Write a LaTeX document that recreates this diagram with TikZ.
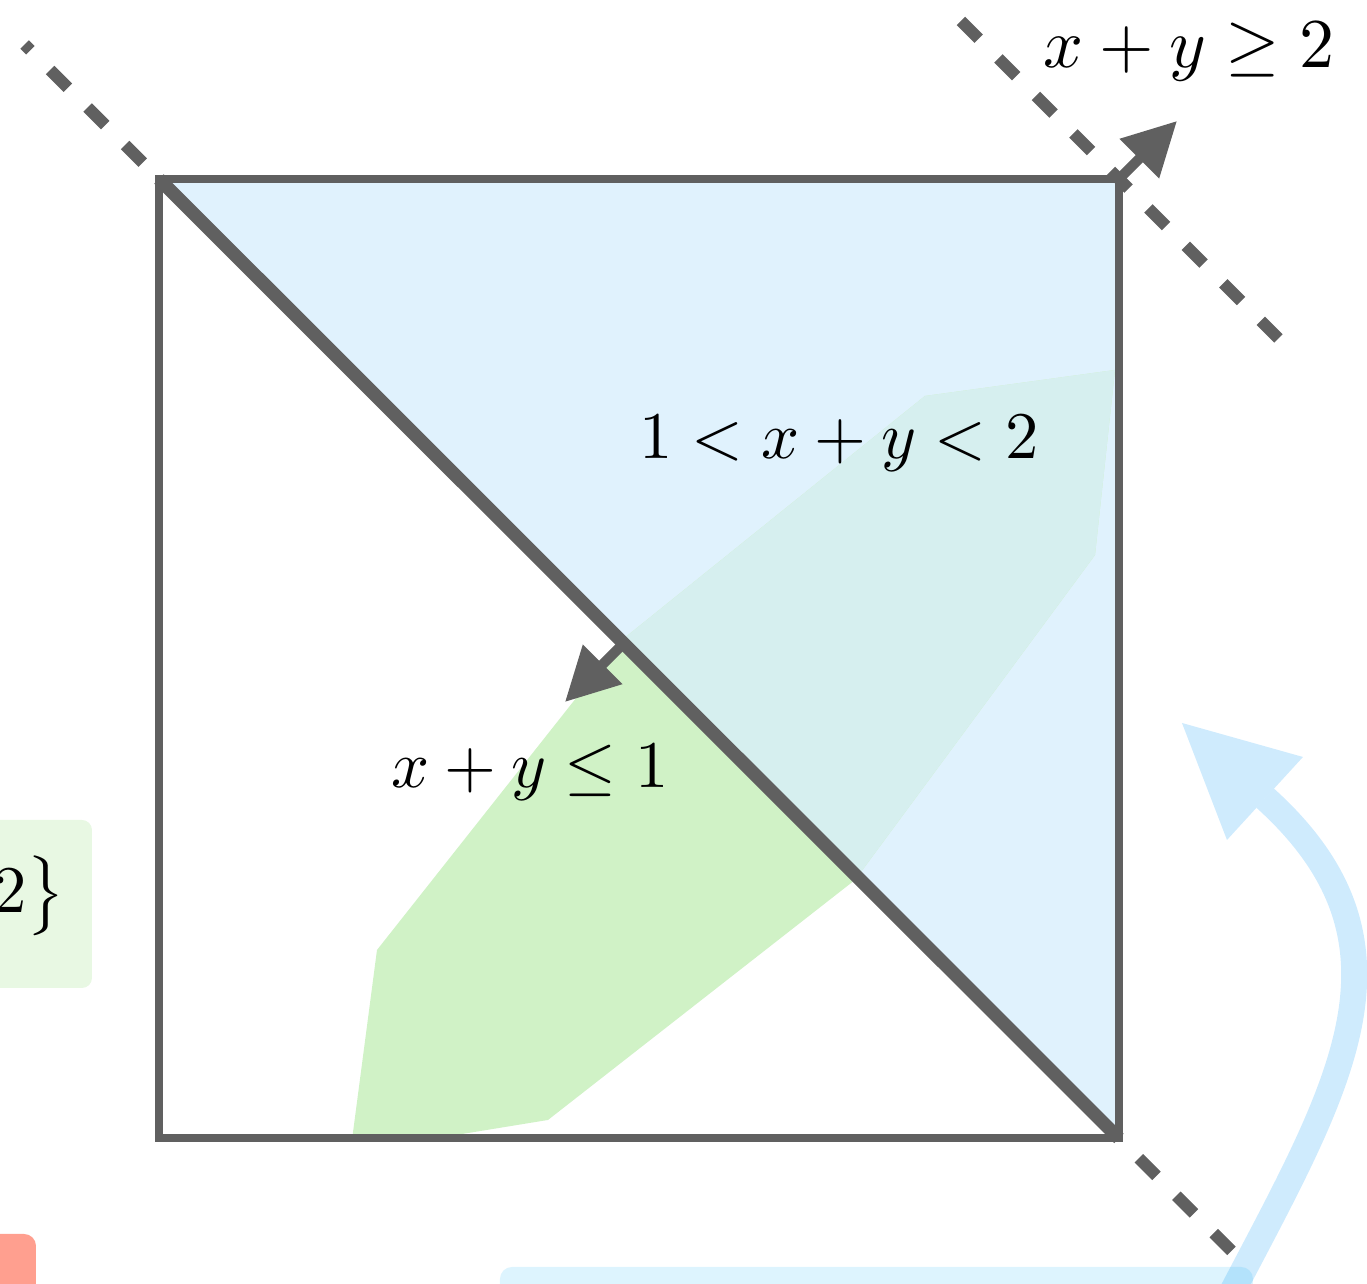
\documentclass[tikz,border=0pt]{standalone}
\usetikzlibrary{arrows.meta,calc}
\definecolor{lgray}{RGB}{96,96,96}
\definecolor{fillblue}{RGB}{224,242,253}
\definecolor{fillgreen}{RGB}{208,242,198}
\definecolor{fillteal}{RGB}{214,239,239}
\definecolor{boxgreen}{RGB}{232,248,227}
\definecolor{boxred}{RGB}{255,159,143}
\definecolor{arrowblue}{RGB}{207,235,253}
\definecolor{barbase}{RGB}{3,169,244}
\begin{document}
\begin{tikzpicture}[x=0.15pt,y=-0.15pt,
  solidline/.style={draw=lgray,line width=2pt},
  frameline/.style={draw=lgray,line width=1.2pt},
  dashline/.style={draw=lgray,line width=1.8pt,dash pattern=on 3.75pt off 4.2pt},
  arrowline/.style={draw=lgray,line width=1.5pt,-{Triangle[length=8pt,width=8pt]}},
  lbl/.style={anchor=base,inner sep=0pt}]
\useasboundingbox (0,0) rectangle (1367,1284);
% partial boxes at the edges
\fill[boxgreen,rounded corners=1.5pt] (-60,820) rectangle (92,988);
\node[anchor=base east,inner sep=0pt] (setlbl) at (67,913) {$2\bigr\}$};
\fill[boxred,rounded corners=1.8pt] (-60,1234) rectangle (36,1330);
% square corners
\coordinate (A) at (159,1138.5);
\coordinate (B) at (1119,1138.5);
\coordinate (C) at (1119,179);
\coordinate (D) at (159,179);
% regions
\fill[fillblue] (D) -- (C) -- (B) -- cycle;
\begin{scope}
  \clip (A) rectangle (C);
  \fill[fillgreen] (352,1140) -- (377,950) -- (622,640) -- (925,396) -- (1115,370) -- (1095,555) -- (855,880) -- (548,1120) -- (450,1136) -- cycle;
  \clip (D) -- (C) -- (B) -- cycle;
  \fill[fillteal] (352,1140) -- (377,950) -- (622,640) -- (925,396) -- (1115,370) -- (1095,555) -- (855,880) -- (548,1120) -- (450,1136) -- cycle;
\end{scope}
% dashed lines
\coordinate (tl) at (24.6,44.6);
\coordinate (br) at (1236,1255.5);
\coordinate (tr1) at (961,21);
\coordinate (tr2) at (1278.5,338.5);
\draw[dashline,dash phase=4.5pt] (D) -- (tl);
\draw[dashline,dash phase=3.75pt] (B) -- (br);
\draw[dashline] (tr1) -- (tr2);
% square and diagonal
\draw[frameline] (A) rectangle (C);
\draw[solidline] (D) -- (B);
% arrows
\coordinate (up) at (1177,121);
\draw[arrowline] (C) -- (up);
\coordinate (dstart) at ($(D)!0.484!(B)$);
\coordinate (dtip) at (565,702);
\draw[arrowline] (dstart) -- (dtip);
% labels
\node[lbl] (mid) at (839,459) {$1<x+y<2$};
\node[lbl] (low) at (530,788) {$x+y\le 1$};
\node[lbl,scale=1.05] (high) at (1189,68) {$x+y\ge 2$};
% light blue curved arrow and bar
\coordinate (bs) at (1230,1296);
\coordinate (be) at (1265,798);
\draw[arrowblue,line width=3.9pt] (bs) .. controls (1338,1089) and (1428,945) .. (be);
\fill[arrowblue] (1182,723) -- (1303,757) -- (1227,840) -- cycle;
\fill[barbase,fill opacity=0.135,rounded corners=1.8pt] (500,1267) rectangle (1253,1330);
\end{tikzpicture}
\end{document}
